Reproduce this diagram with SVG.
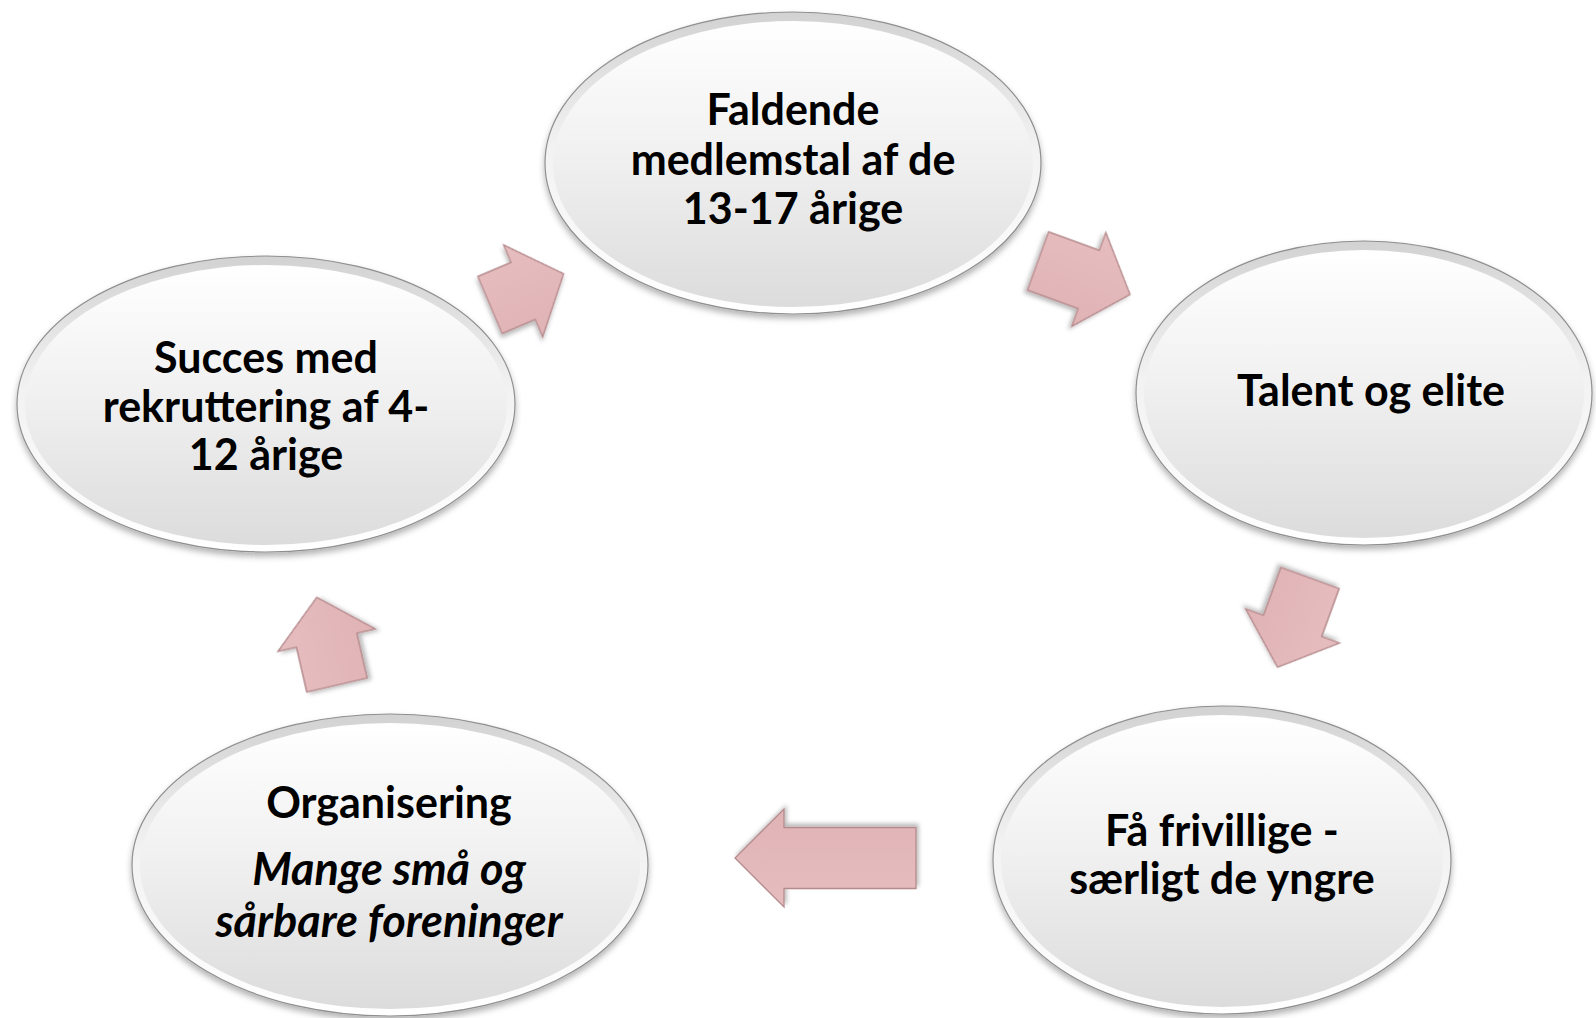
<svg xmlns="http://www.w3.org/2000/svg" width="1596" height="1018" viewBox="0 0 1596 1018">
<defs>
<linearGradient id="rim" x1="0" y1="0" x2="0" y2="1">
<stop offset="0" stop-color="#d2d2d2"/>
<stop offset="0.45" stop-color="#f2f2f2"/>
<stop offset="1" stop-color="#ffffff"/>
</linearGradient>
<linearGradient id="face" x1="0" y1="0" x2="0" y2="1">
<stop offset="0" stop-color="#ffffff"/>
<stop offset="0.45" stop-color="#f1f1f1"/>
<stop offset="1" stop-color="#dcdcdc"/>
</linearGradient>
<linearGradient id="pink" x1="0" y1="0" x2="0" y2="1">
<stop offset="0" stop-color="#e6bdbf"/>
<stop offset="1" stop-color="#e0b3b5"/>
</linearGradient>
<filter id="sh" x="-10%" y="-10%" width="120%" height="125%">
<feDropShadow dx="0" dy="4" stdDeviation="3" flood-color="#000" flood-opacity="0.3"/>
</filter>
<filter id="ash" x="-20%" y="-20%" width="140%" height="140%">
<feDropShadow dx="-2" dy="3" stdDeviation="2" flood-color="#000" flood-opacity="0.28"/>
</filter>
</defs>
<style>
.outer{fill:url(#rim);stroke:#8f8f8f;stroke-width:1.2}
.inner{fill:url(#face)}
.t{font-family:Lato,"Liberation Sans",sans-serif;font-weight:bold;font-size:43px;fill:#000;text-anchor:middle}
.it{font-style:italic;font-size:45px}
.arr{fill:url(#pink);stroke:#b58a8d;stroke-width:1.3;stroke-linejoin:miter}
</style>
<rect width="1596" height="1018" fill="#ffffff"/>

<g id="connectors">
<g transform="translate(490,305) rotate(-23)" filter="url(#ash)">
<polygon class="arr" points="0,-31 36,-31 36,-50 80,0 36,50 36,31 0,31"/>
</g>
<g transform="translate(1038,261) rotate(20)" filter="url(#ash)">
<polygon class="arr" points="0,-31 54,-31 54,-50 98,0 54,50 54,31 0,31"/>
</g>
<g transform="translate(1310,578) rotate(110)" filter="url(#ash)">
<polygon class="arr" points="0,-31 51,-31 51,-50 95,0 51,50 51,31 0,31"/>
</g>
<g transform="translate(916,858) rotate(180)" filter="url(#ash)">
<polygon class="arr" points="0,-30.5 132,-30.5 132,-49 181,0 132,49 132,30.5 0,30.5"/>
</g>
<g transform="translate(337,685) rotate(-103)" filter="url(#ash)">
<polygon class="arr" points="0,-31 46,-31 46,-50 90,0 46,50 46,31 0,31"/>
</g>
</g>

<g id="node-top">
<ellipse class="outer" cx="793" cy="163" rx="248" ry="151" filter="url(#sh)"/>
<ellipse class="inner" cx="793" cy="164" rx="240" ry="143"/>
<text class="t" x="793" y="125">Faldende</text>
<text class="t" x="793" y="175">medlemstal af de</text>
<text class="t" x="793" y="224">13-17 årige</text>
</g>

<g id="node-right">
<ellipse class="outer" cx="1364" cy="393" rx="228" ry="152" filter="url(#sh)"/>
<ellipse class="inner" cx="1364" cy="394" rx="220" ry="144"/>
<text class="t" x="1371" y="406">Talent og elite</text>
</g>

<g id="node-bottom-right">
<ellipse class="outer" cx="1222" cy="860" rx="229" ry="154" filter="url(#sh)"/>
<ellipse class="inner" cx="1222" cy="861" rx="221" ry="146"/>
<text class="t" x="1222" y="846">Få frivillige -</text>
<text class="t" x="1222" y="894">særligt de yngre</text>
</g>

<g id="node-bottom-left">
<ellipse class="outer" cx="390" cy="865" rx="258" ry="151" filter="url(#sh)"/>
<ellipse class="inner" cx="390" cy="866" rx="250" ry="143"/>
<text class="t" x="389" y="818">Organisering</text>
<text class="t it" x="389" y="885">Mange små og</text>
<text class="t it" x="389" y="937">sårbare foreninger</text>
</g>

<g id="node-left">
<ellipse class="outer" cx="266" cy="404" rx="249" ry="148" filter="url(#sh)"/>
<ellipse class="inner" cx="266" cy="405" rx="241" ry="140"/>
<text class="t" x="266" y="373">Succes med</text>
<text class="t" x="266" y="422">rekruttering af 4-</text>
<text class="t" x="266" y="470">12 årige</text>
</g>
</svg>
